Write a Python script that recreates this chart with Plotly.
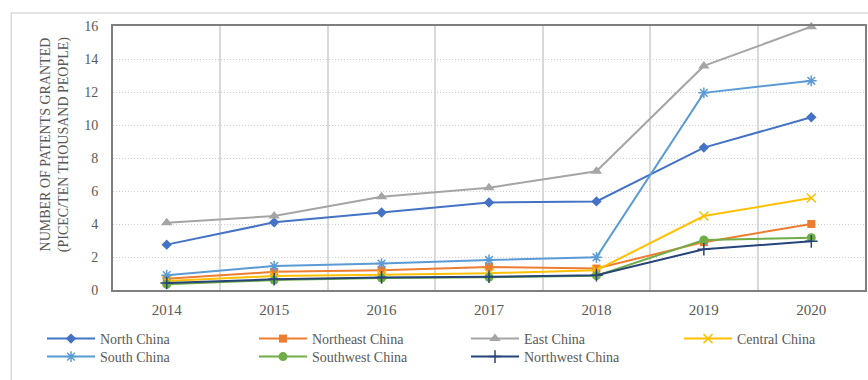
import plotly.graph_objects as go

years = ["2014", "2015", "2016", "2017", "2018", "2019", "2020"]
north = [2.75, 4.1, 4.7, 5.3, 5.37, 8.63, 10.47]
northeast = [0.68, 1.1, 1.2, 1.4, 1.3, 2.9, 4.0]
east = [4.08, 4.48, 5.65, 6.2, 7.2, 13.58, 15.96]
central = [0.55, 0.85, 0.92, 1.02, 1.2, 4.48, 5.58]
south = [0.9, 1.45, 1.6, 1.82, 1.98, 11.95, 12.68]
southwest = [0.35, 0.6, 0.72, 0.77, 0.87, 3.03, 3.17]
northwest = [0.42, 0.65, 0.76, 0.8, 0.9, 2.47, 2.95]
y_ticks = [0, 2, 4, 6, 8, 10, 12, 14, 16]

series = [
    ("North China", north, "#4472C4", "diamond", 8),
    ("Northeast China", northeast, "#ED7D31", "square", 8),
    ("East China", east, "#A5A5A5", "triangle-up", 10),
    ("Central China", central, "#FFC000", "x-thin-open", 9),
    ("South China", south, "#5B9BD5", "asterisk-open", 9),
    ("Southwest China", southwest, "#70AD47", "circle", 9),
    ("Northwest China", northwest, "#264478", "cross-thin-open", 9),
]

W, H = 868, 380
# legend positions in pixels (left of legend box, row center)
leg_pos = [(42, 339), (254, 339), (466, 339), (679, 339),
           (42, 357), (254, 357), (466, 357)]

fig = go.Figure()
layout_legends = {}
for i, (name, vals, color, sym, sz) in enumerate(series):
    lname = "legend" if i == 0 else f"legend{i+1}"
    thin = sym.endswith("open")
    fig.add_trace(go.Scatter(
        x=years, y=vals, name=name, mode="lines+markers",
        line=dict(color=color, width=2),
        marker=dict(symbol=sym, size=sz, color=color,
                    line=dict(color=color, width=1.5 if thin else 0)),
        legend=lname, cliponaxis=False,
    ))
    px, py = leg_pos[i]
    layout_legends[lname] = dict(
        x=px / W, y=1 - py / H, xref="container", yref="container",
        xanchor="left", yanchor="middle", orientation="h",
        itemwidth=48, bgcolor="rgba(0,0,0,0)",
        font=dict(family="Liberation Serif", size=14, color="#595959"),
    )

fig.update_layout(
    width=W, height=H,
    margin=dict(l=113, r=1, t=26, b=90),
    paper_bgcolor="white", plot_bgcolor="white",
    showlegend=True,
    font=dict(family="Liberation Serif", size=14, color="#595959"),
    **layout_legends,
)
fig.update_xaxes(
    type="category", range=[-0.5, 6.5], tickson="boundaries",
    showgrid=True, gridcolor="#D9D9D9", gridwidth=2,
    showline=True, linecolor="#7F7F7F", linewidth=2, mirror=True,
    ticks="", ticklabelstandoff=5,
    tickfont=dict(size=15, color="#595959"),
)
fig.update_yaxes(
    range=[0, 16], tickvals=y_ticks,
    showgrid=True, gridcolor="#D0D0D0", gridwidth=1, griddash="1px,2px",
    showline=True, linecolor="#7F7F7F", linewidth=2, mirror=True,
    zeroline=False, ticks="", ticklabelstandoff=10,
    tickfont=dict(size=14, color="#595959"),
)
fig.add_annotation(
    text="NUMBER OF PATENTS GRANTED<br>(PICEC/TEN THOUSAND PEOPLE)",
    xref="paper", yref="paper", x=(55 - 113) / 754, y=(290 - 144) / 264,
    textangle=-90, showarrow=False, xanchor="center", yanchor="middle",
    font=dict(family="Liberation Serif", size=14, color="#595959"),
)
# outer chart-area frame
fig.add_shape(type="rect", xref="paper", yref="paper",
              x0=(11 - 113) / 754, x1=(880 - 113) / 754,
              y0=(290 - 400) / 264, y1=(290 - 13) / 264,
              line=dict(color="#D9D9D9", width=1.5), layer="below")

fig.write_html("out.html")
